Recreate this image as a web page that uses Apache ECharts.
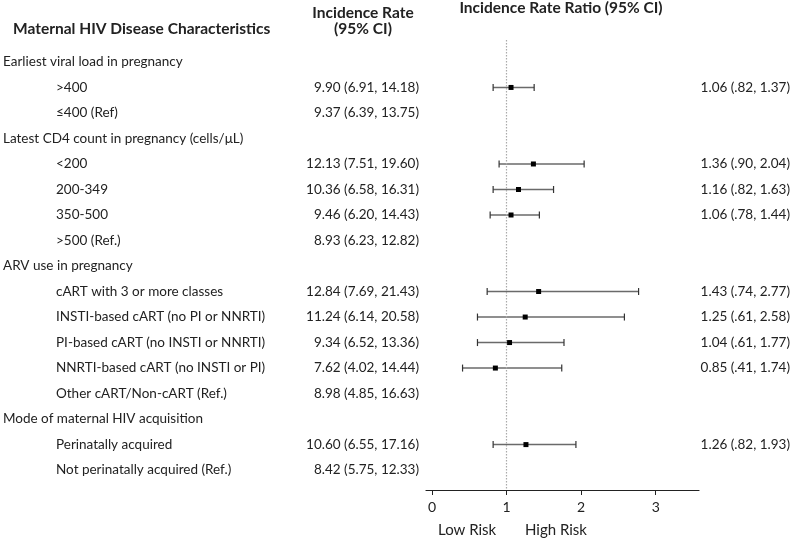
<!DOCTYPE html>
<html>
<head>
<meta charset="utf-8">
<script src="https://cdn.jsdelivr.net/npm/echarts@6/dist/echarts.min.js"></script>
<style>
  html, body { margin: 0; padding: 0; background: #fff; }
  #main { width: 792px; height: 541px; }
</style>
</head>
<body>
<div id="main"></div>
<script>
// row labels, top to bottom
var rowLabels = [
	'Earliest viral load in pregnancy', '>400', '≤400 (Ref)',
	'Latest CD4 count in pregnancy (cells/μL)', '<200', '200-349', '350-500', '>500 (Ref.)',
	'ARV use in pregnancy', 'cART with 3 or more classes', 'INSTI-based cART (no PI or NNRTI)',
	'PI-based cART (no INSTI or NNRTI)', 'NNRTI-based cART (no INSTI or PI)', 'Other cART/Non-cART (Ref.)',
	'Mode of maternal HIV acquisition', 'Perinatally acquired', 'Not perinatally acquired (Ref.)'
];
var isGroup = [1, 0, 0, 1, 0, 0, 0, 0, 1, 0, 0, 0, 0, 0, 1, 0, 0];
var rateText = [
	'', '9.90 (6.91, 14.18)', '9.37 (6.39, 13.75)',
	'', '12.13 (7.51, 19.60)', '10.36 (6.58, 16.31)', '9.46 (6.20, 14.43)', '8.93 (6.23, 12.82)',
	'', '12.84 (7.69, 21.43)', '11.24 (6.14, 20.58)', '9.34 (6.52, 13.36)', '7.62 (4.02, 14.44)', '8.98 (4.85, 16.63)',
	'', '10.60 (6.55, 17.16)', '8.42 (5.75, 12.33)'
];
// incidence rate ratios: row index, estimate, lower, upper
var irrRow = [1, 4, 5, 6, 9, 10, 11, 12, 15];
var irrEst = [1.06, 1.36, 1.16, 1.06, 1.43, 1.25, 1.04, 0.85, 1.26];
var irrLow = [0.82, 0.90, 0.82, 0.78, 0.74, 0.61, 0.61, 0.41, 0.82];
var irrHigh = [1.37, 2.04, 1.63, 1.44, 2.77, 2.58, 1.77, 1.74, 1.93];
var irrText = ['1.06 (.82, 1.37)', '1.36 (.90, 2.04)', '1.16 (.82, 1.63)', '1.06 (.78, 1.44)',
	'1.43 (.74, 2.77)', '1.25 (.61, 2.58)', '1.04 (.61, 1.77)', '0.85 (.41, 1.74)', '1.26 (.82, 1.93)'];
var xTicks = [0, 1, 2, 3];

var FONT = 'Lato';
var TXT = '#222';

var chart = echarts.init(document.getElementById('main'));

var rowData = [];
for (var i = 0; i < rowLabels.length; i++) {
	rowData.push([0, i]);
}
var barData = [];
for (var i = 0; i < irrRow.length; i++) {
	barData.push([irrEst[i], irrRow[i], irrLow[i], irrHigh[i]]);
}

function textItem(x, y, str, align, bold) {
	return {
		type: 'text',
		style: {
			x: x, y: y, text: str,
			textAlign: align, textVerticalAlign: 'middle',
			fill: TXT,
			font: (bold ? 'bold ' : '') + '13.5px ' + FONT
		}
	};
}

var headStyle = { fontFamily: FONT, fontSize: 15.5, fontWeight: 'bold', color: TXT };
var riskStyle = { fontFamily: FONT, fontSize: 15, fontWeight: 'normal', color: TXT };

var option = {
	animation: false,
	backgroundColor: '#fff',
	title: [
		{ text: 'Maternal HIV Disease Characteristics', left: 13, top: 21, padding: 0, textStyle: headStyle },
		{ text: 'Incidence Rate\n(95% CI)', left: 363, top: 5, padding: 0, textAlign: 'center',
			textStyle: { fontFamily: FONT, fontSize: 15.5, fontWeight: 'bold', color: TXT, lineHeight: 16, align: 'center' } },
		{ text: 'Incidence Rate Ratio (95% CI)', left: 561, top: 0, padding: 0, textAlign: 'center', textStyle: headStyle },
		{ text: 'Low Risk', left: 438, top: 523, padding: 0, textStyle: riskStyle },
		{ text: 'High Risk', left: 525, top: 523, padding: 0, textStyle: riskStyle }
	],
	grid: { left: 426, right: 93, top: 40, bottom: 51 },
	xAxis: {
		type: 'value',
		min: -0.08,
		max: 3.58,
		splitLine: { show: false },
		axisLine: { show: true, onZero: false, lineStyle: { color: '#222', width: 1.2 } },
		axisTick: { show: true, customValues: xTicks, length: 5, lineStyle: { color: '#222' } },
		axisLabel: { customValues: xTicks, margin: 10, fontFamily: FONT, fontSize: 14, color: TXT }
	},
	yAxis: {
		type: 'value',
		inverse: true,
		min: -0.86,
		max: 16.78,
		show: false
	},
	series: [
		{
			type: 'custom',
			name: 'labels',
			data: rowData,
			clip: false,
			renderItem: function (params, api) {
				var i = api.value(1);
				var y = api.coord([0, i])[1];
				var left = params.coordSys.x;
				var kids = [];
				kids.push(textItem(isGroup[i] ? 3 : 56, y, rowLabels[i], 'left', false));
				if (rateText[i]) {
					kids.push(textItem(left - 7, y, rateText[i], 'right', false));
				}
				return { type: 'group', children: kids };
			}
		},
		{
			type: 'custom',
			name: 'irr',
			data: barData,
			clip: false,
			renderItem: function (params, api) {
				var est = api.coord([api.value(0), api.value(1)]);
				var lo = api.coord([api.value(2), api.value(1)]);
				var hi = api.coord([api.value(3), api.value(1)]);
				var cap = 3.5;
				var rightEdge = params.coordSys.x + params.coordSys.width;
				return {
					type: 'group',
					children: [
						{ type: 'line', shape: { x1: lo[0], y1: lo[1], x2: hi[0], y2: hi[1] },
							style: { stroke: '#6a6a6a', lineWidth: 1.5 } },
						{ type: 'line', shape: { x1: lo[0], y1: lo[1] - cap, x2: lo[0], y2: lo[1] + cap },
							style: { stroke: '#333', lineWidth: 1.2 } },
						{ type: 'line', shape: { x1: hi[0], y1: hi[1] - cap, x2: hi[0], y2: hi[1] + cap },
							style: { stroke: '#333', lineWidth: 1.2 } },
						{ type: 'rect', shape: { x: est[0] - 2.5, y: est[1] - 2.5, width: 5, height: 5 },
							style: { fill: '#000' } },
						textItem(rightEdge + 91, est[1], irrText[params.dataIndex], 'right', false)
					]
				};
			},
			markLine: {
				silent: true,
				symbol: 'none',
				label: { show: false },
				lineStyle: { color: '#aaa', type: [1.5, 1.5], width: 1.2 },
				data: [{ xAxis: 1 }]
			},
			z: 3
		}
	]
};
chart.setOption(option);
</script>
</body>
</html>
